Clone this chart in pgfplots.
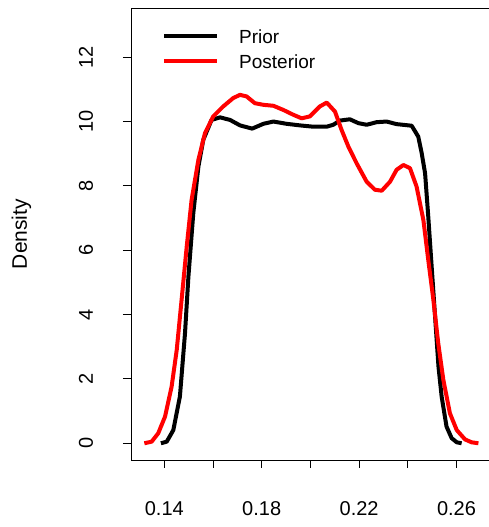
\documentclass[border=0pt]{standalone}
\usepackage{pgfplots}
\pgfplotsset{compat=1.18}
\usepackage{fontspec}
\setmainfont{Liberation Sans}
\definecolor{rred}{RGB}{255,0,0}

\pgfplotstableread{
x y
0.1386 0.00
0.1410 0.05
0.1437 0.41
0.1464 1.45
0.1485 3.42
0.1499 5.18
0.1519 7.15
0.1540 8.60
0.1560 9.43
0.1594 10.05
0.1629 10.13
0.1670 10.05
0.1711 9.88
0.1761 9.78
0.1807 9.93
0.1848 10.00
0.1902 9.93
0.1957 9.88
0.2012 9.84
0.2067 9.84
0.2094 9.90
0.2121 10.03
0.2162 10.07
0.2197 9.95
0.2231 9.90
0.2272 9.98
0.2313 10.00
0.2354 9.92
0.2416 9.87
0.2443 9.53
0.2457 9.02
0.2471 8.39
0.2484 7.05
0.2498 5.49
0.2512 3.94
0.2526 2.38
0.2539 1.45
0.2559 0.52
0.2580 0.16
0.2601 0.03
0.2621 0.00
}\prior

\pgfplotstableread{
x y
0.1318 0.00
0.1348 0.05
0.1375 0.31
0.1403 0.83
0.1430 1.76
0.1451 2.90
0.1471 4.46
0.1492 6.11
0.1512 7.56
0.1540 8.81
0.1567 9.64
0.1601 10.16
0.1642 10.47
0.1683 10.73
0.1711 10.83
0.1738 10.78
0.1772 10.57
0.1807 10.52
0.1848 10.49
0.1889 10.36
0.1930 10.21
0.1964 10.10
0.1998 10.16
0.2039 10.47
0.2067 10.59
0.2101 10.31
0.2128 9.74
0.2156 9.22
0.2190 8.70
0.2231 8.13
0.2265 7.88
0.2293 7.85
0.2327 8.13
0.2354 8.50
0.2382 8.65
0.2409 8.55
0.2436 7.98
0.2464 6.94
0.2484 5.70
0.2505 4.46
0.2525 3.11
0.2546 1.97
0.2573 0.93
0.2601 0.41
0.2635 0.12
0.2662 0.03
0.2690 0.00
}\posterior

\begin{document}
\begin{tikzpicture}
\path[use as bounding box] (0,0) rectangle (489bp,527bp);
\begin{axis}[
  at={(131bp,67bp)}, anchor=south west,
  scale only axis, width=360bp, height=451.7bp,
  xmin=0.12632, xmax=0.27417, ymin=-0.52, ymax=13.52,
  axis line style={line width=1bp, black},
  xtick={0.14,0.16,0.18,0.20,0.22,0.24,0.26},
  xticklabels={0.14,,0.18,,0.22,,0.26},
  ytick={0,2,4,6,8,10,12},
  yticklabels={0,2,4,6,8,10,12},
  xtick pos=left, ytick pos=left, tick align=outside,
  major tick length=8bp,
  tick style={line width=1bp, black},
  /pgf/number format/assume math mode=true,
  ticklabel style={font=\fontsize{20bp}{24bp}\selectfont},
  xticklabel style={anchor=base},
  xticklabel shift=47bp,
  yticklabel style={anchor=base, rotate=90},
  yticklabel shift=30bp,
  ylabel={Density},
  every axis y label/.style={at={(axis description cs:-0.2889,0.5)}, rotate=90, anchor=base, font=\fontsize{21bp}{25bp}\selectfont},
  legend image code/.code={\draw[#1] (0bp,0bp) -- (53bp,0bp);},
  legend style={at={(axis description cs:0.0861,0.9535)}, anchor=north west,
    draw=none, fill=none, inner sep=0pt, font=\fontsize{19bp}{23bp}\selectfont,
    nodes={inner sep=0pt, text height=14bp, text depth=0bp},
    row sep=11bp, column sep=0bp},
  legend cell align=left,
]
\addplot[black, line width=4bp, line join=round] table {\prior};
\addlegendentry{\hspace{20bp}Prior}
\addplot[rred, line width=4bp, line join=round] table {\posterior};
\addlegendentry{\hspace{20bp}Posterior}
\end{axis}
\end{tikzpicture}
\end{document}
